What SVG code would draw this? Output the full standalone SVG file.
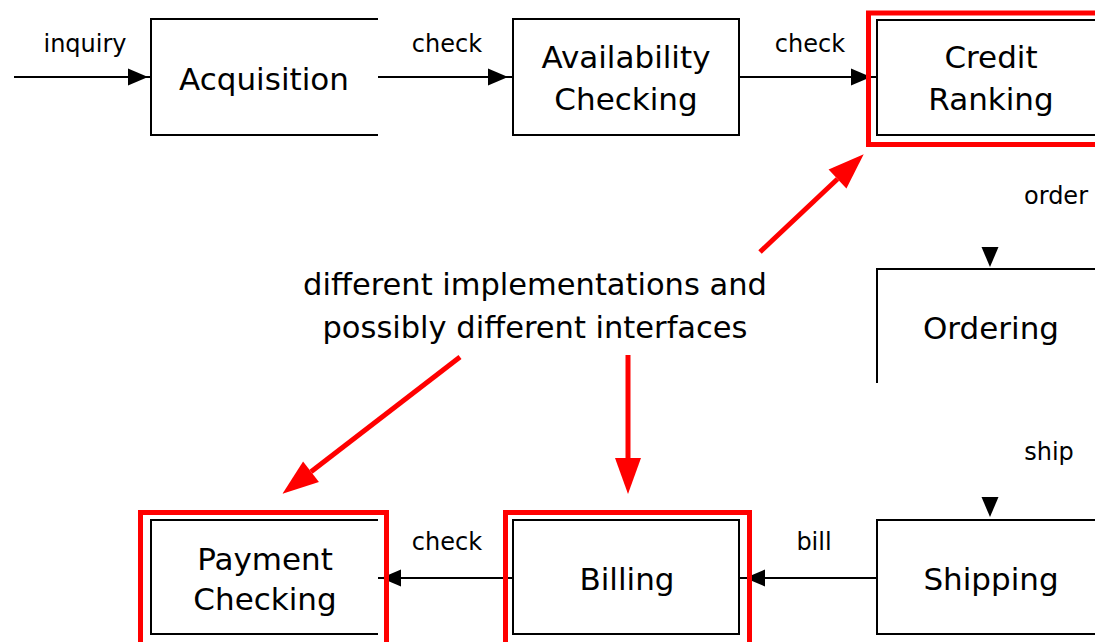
<svg xmlns="http://www.w3.org/2000/svg" xmlns:xlink="http://www.w3.org/1999/xlink" width="1095" height="642" viewBox="0 0 1095 642">
  <style>
    .box { fill: #fff; stroke: #000; stroke-width: 2; }
    .edge { fill: none; stroke: #000; stroke-width: 2; }
    .hl { fill: none; stroke: #ff0000; stroke-width: 5; }
    .txt { font-family: "DejaVu Sans", "Liberation Sans", sans-serif; font-size: 31px; fill: #000; text-anchor: middle; }
    .lbl { font-family: "DejaVu Sans", "Liberation Sans", sans-serif; font-size: 24px; fill: #000; text-anchor: middle; }
    .note { font-family: "DejaVu Sans", "Liberation Sans", sans-serif; font-size: 30.5px; fill: #000; text-anchor: middle; }
    .conn { fill: none; stroke: #000; stroke-width: 2; }
    .ah { fill: #000; }
    .rarrow { fill: none; stroke: #ff0000; stroke-width: 5; }
  </style>
  <defs>
    <path id="ah" d="M0,0 L-20,-8.5 L-20,8.5 z"/>
    <marker id="redhead" viewBox="0 0 36 26" refX="0" refY="13" markerWidth="36" markerHeight="26" markerUnits="userSpaceOnUse" orient="auto" overflow="visible">
      <path d="M0,0 L36,13 L0,26 z" fill="#ff0000"/>
    </marker>
  </defs>
  <rect width="1095" height="642" fill="#fff"/>

  <g id="connectors">
    <line class="conn" x1="14" y1="77" x2="151" y2="77"/>
    <use xlink:href="#ah" href="#ah" class="ah" transform="translate(148,77)"/>
    <line class="conn" x1="378" y1="77" x2="513" y2="77"/>
    <use xlink:href="#ah" href="#ah" class="ah" transform="translate(508,77)"/>
    <line class="conn" x1="739" y1="77" x2="877" y2="77"/>
    <use xlink:href="#ah" href="#ah" class="ah" transform="translate(871,77)"/>
    <use xlink:href="#ah" href="#ah" class="ah" transform="translate(990,267) rotate(90)"/>
    <use xlink:href="#ah" href="#ah" class="ah" transform="translate(990,517) rotate(90)"/>
    <line class="conn" x1="877" y1="578" x2="739" y2="578"/>
    <use xlink:href="#ah" href="#ah" class="ah" transform="translate(745,578) rotate(180)"/>
    <line class="conn" x1="513" y1="578" x2="378" y2="578"/>
    <use xlink:href="#ah" href="#ah" class="ah" transform="translate(381,578) rotate(180)"/>
    <text class="lbl" x="85" y="52">inquiry</text>
    <text class="lbl" x="447" y="52">check</text>
    <text class="lbl" x="810" y="52">check</text>
    <text class="lbl" x="1056" y="204">order</text>
    <text class="lbl" x="1049" y="460">ship</text>
    <text class="lbl" x="814" y="550">bill</text>
    <text class="lbl" x="447" y="550">check</text>
  </g>

  <g id="acquisition">
    <path class="edge" d="M378,19 H151 V135 H378"/>
    <text class="txt" x="264" y="90">Acquisition</text>
  </g>

  <g id="availability-checking">
    <rect class="box" x="513" y="19" width="226" height="116"/>
    <text class="txt" x="626" y="68">Availability</text>
    <text class="txt" x="626" y="110">Checking</text>
  </g>

  <g id="credit-ranking">
    <rect class="box" x="877" y="20" width="240" height="115"/>
    <text class="txt" x="991" y="68">Credit</text>
    <text class="txt" x="991" y="110">Ranking</text>
    <rect class="hl" x="868.5" y="13" width="260" height="131.5"/>
  </g>

  <g id="ordering">
    <path class="edge" d="M1100,269 H877 V383"/>
    <text class="txt" x="991" y="339">Ordering</text>
  </g>

  <g id="shipping">
    <rect class="box" x="877" y="520" width="240" height="114"/>
    <text class="txt" x="991" y="590">Shipping</text>
  </g>

  <g id="billing">
    <rect class="box" x="513" y="520" width="226" height="114"/>
    <text class="txt" x="627" y="590">Billing</text>
    <rect class="hl" x="505.5" y="512.5" width="244" height="140"/>
  </g>

  <g id="payment-checking">
    <path class="edge" d="M378,520 H151 V634 H378"/>
    <text class="txt" x="265" y="570">Payment</text>
    <text class="txt" x="265" y="610">Checking</text>
    <rect class="hl" x="140.5" y="512.5" width="246" height="140"/>
  </g>

  <g id="annotation">
    <text class="note" x="535" y="295">different implementations and</text>
    <text class="note" x="535" y="338">possibly different interfaces</text>
    <line class="rarrow" x1="760" y1="252" x2="837.5" y2="179" marker-end="url(#redhead)"/>
    <line class="rarrow" x1="460" y1="357" x2="311" y2="471.7" marker-end="url(#redhead)"/>
    <line class="rarrow" x1="628" y1="355" x2="628" y2="458" marker-end="url(#redhead)"/>
  </g>
</svg>
